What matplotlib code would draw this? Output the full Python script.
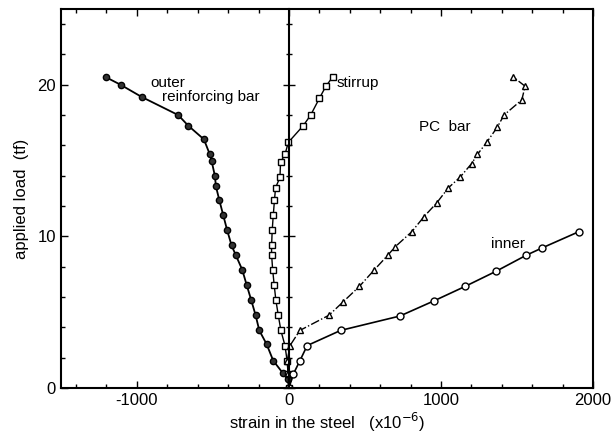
import matplotlib
matplotlib.use("Agg")
import matplotlib.pyplot as plt
from matplotlib.ticker import MultipleLocator

# strain readings (x10^-6) against applied load (tf)
outer_x = [0, -7, -41, -103, -147, -195, -219, -248, -278, -307, -351, -377,
           -406, -432, -458, -480, -487, -509, -520, -559, -662, -728, -969,
           -1107, -1204]
outer_y = [0, 0.6, 1.0, 1.8, 2.9, 3.8, 4.8, 5.8, 6.8, 7.8, 8.8, 9.4,
           10.4, 11.4, 12.4, 13.3, 14.0, 15.0, 15.4, 16.4, 17.3, 18.0, 19.2,
           20.0, 20.5]

stirrup_x = [0, -5, -12, -26, -53, -70, -86, -97, -107, -114, -114, -110,
             -103, -95, -88, -59, -55, -26, -4, 94, 143, 200, 243, 287]
stirrup_y = [0, 0.9, 1.8, 2.8, 3.8, 4.8, 5.8, 6.8, 7.8, 8.8, 9.4, 10.4,
             11.4, 12.4, 13.2, 13.9, 14.9, 15.4, 16.2, 17.3, 18.0, 19.1, 19.9, 20.5]

pc_x = [0, -5, -11, 7, 72, 263, 358, 463, 562, 654, 697, 807, 888, 971,
        1048, 1125, 1201, 1239, 1300, 1370, 1414, 1531, 1553, 1476]
pc_y = [0, 1.0, 1.8, 2.8, 3.8, 4.8, 5.7, 6.7, 7.8, 8.8, 9.3, 10.3, 11.3, 12.2,
        13.2, 13.9, 14.8, 15.4, 16.2, 17.2, 18.0, 19.0, 19.9, 20.5]

inner_x = [0, 28, 72, 120, 340, 730, 954, 1158, 1362, 1559, 1667, 1904]
inner_y = [0, 0.9, 1.8, 2.8, 3.8, 4.75, 5.75, 6.7, 7.7, 8.75, 9.25, 10.3]

plt.rcParams['font.family'] = ['Liberation Sans', 'DejaVu Sans']
plt.rcParams['axes.unicode_minus'] = False

fig = plt.figure(figsize=(6.14, 4.45), dpi=100)
ax = fig.add_axes([0.099, 0.128, 0.867, 0.852])

ax.plot(outer_x, outer_y, '-o', color='black', lw=1.3, ms=4.5,
        mfc='#333333', mec='black', mew=1)
ax.plot(stirrup_x, stirrup_y, '-s', color='black', lw=1.0, ms=4.5,
        mfc='white', mec='black', mew=1)
ax.plot(pc_x, pc_y, '-.^', color='black', lw=1.0, ms=4.5,
        mfc='white', mec='black', mew=1)
ax.plot(inner_x, inner_y, '-o', color='black', lw=1.2, ms=5,
        mfc='white', mec='black', mew=1)

ax.text(-914, 20.1, "outer", fontsize=11, va='center')
ax.text(-835, 19.2, "reinforcing bar", fontsize=11, va='center')
ax.text(316, 20.1, "stirrup", fontsize=11, va='center')
ax.text(855, 17.2, "PC  bar", fontsize=11, va='center')
ax.text(1329, 9.5, "inner", fontsize=11, va='center')

ax.set_xlim(-1500, 2000)
ax.set_ylim(0, 25)
ax.set_xticks([-1000, 0, 1000, 2000])
ax.set_yticks([0, 10, 20])
ax.xaxis.set_minor_locator(MultipleLocator(200))
ax.yaxis.set_minor_locator(MultipleLocator(2))
ax.tick_params(which='both', direction='in', top=True, right=True,
               labelsize=12, width=1)
ax.tick_params(which='major', length=5)
ax.tick_params(which='minor', length=3)
for s in ax.spines.values():
    s.set_linewidth(1.5)

ax.set_xlabel(r"strain in the steel   (x10$^{-6}$)", fontsize=12, labelpad=2)
ax.set_ylabel("applied load  (tf)", fontsize=12, labelpad=6)

# vertical axis through zero strain, with crossing ticks
ax0 = ax.twinx()
ax0.set_ylim(0, 25)
for name, s in ax0.spines.items():
    s.set_visible(name == 'right')
ax0.spines['right'].set_position(('data', 0))
ax0.spines['right'].set_linewidth(1.5)
ax0.yaxis.set_major_locator(MultipleLocator(10))
ax0.yaxis.set_minor_locator(MultipleLocator(2))
ax0.tick_params(which='both', direction='inout', labelright=False, width=1)
ax0.tick_params(which='major', length=8)
ax0.tick_params(which='minor', length=5)

fig.savefig("out.png", dpi=100)
